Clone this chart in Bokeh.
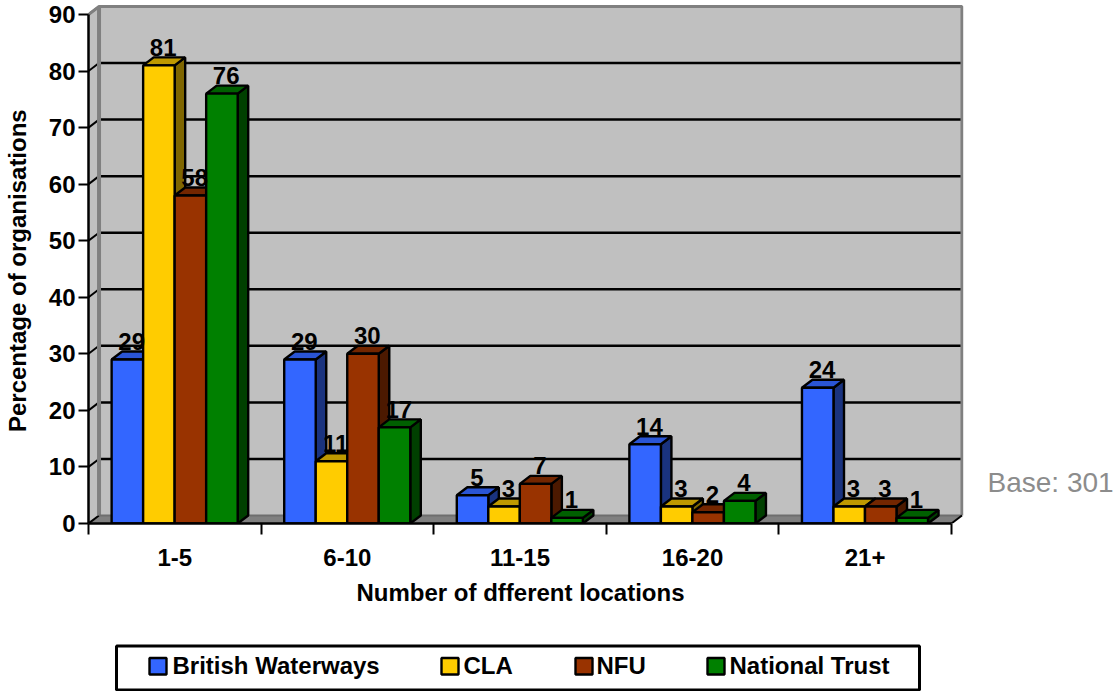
from bokeh.plotting import figure
from bokeh.layouts import column
from bokeh.models import (ColumnDataSource, FixedTicker, Range1d, LinearAxis, Title)
from bokeh.core.properties import value
from bokeh.embed import file_html
from bokeh.resources import INLINE

categories = ["1-5", "6-10", "11-15", "16-20", "21+"]
british_waterways = [29, 29, 5, 14, 24]
cla = [81, 11, 3, 3, 3]
nfu = [58, 30, 7, 2, 3]
national_trust = [76, 17, 1, 4, 1]
y_ticks = [0, 10, 20, 30, 40, 50, 60, 70, 80, 90]

series = [
    ("British Waterways", british_waterways, "#3366FF", "#2A55D5", "#1A337F"),
    ("CLA", cla, "#FFCC00", "#BF9900", "#7F6600"),
    ("NFU", nfu, "#993300", "#732600", "#4C1900"),
    ("National Trust", national_trust, "#008000", "#006000", "#004000"),
]

FONT = "Liberation Sans"
DX = 0.061     # depth of the 3-D box in x units
DY = 1.414     # depth of the 3-D box in y units
BAR_W = 0.1826
PAD = 0.134
YMAX = 90
N = len(categories)
EDGE = 2.4

p = figure(width=1118, height=643, output_backend="svg", toolbar_location=None,
           x_range=Range1d(0, 5.07), y_range=Range1d(0, 91.94),
           min_border_left=88, min_border_right=155, min_border_top=3, min_border_bottom=120,
           background_fill_color="white", border_fill_color="white", outline_line_color=None)
p.xgrid.visible = False
p.ygrid.visible = False

# walls and floor
p.patches(xs=[[DX, N + DX, N + DX, DX]], ys=[[DY, DY, YMAX + DY, YMAX + DY]],
          fill_color="#C0C0C0", line_color=None)
p.patches(xs=[[0, DX, DX, 0]], ys=[[0, DY, YMAX + DY, YMAX]], fill_color="#C0C0C0", line_color=None)
p.patches(xs=[[0, N, N + DX, DX]], ys=[[0, 0, DY, DY]], fill_color="#808080", line_color=None)
# grid on the back wall and its slant on the side wall
gy = [t for t in y_ticks if t > 0]
p.segment(x0=[DX] * len(gy), x1=[N + DX] * len(gy), y0=[t + DY for t in gy], y1=[t + DY for t in gy],
          line_color="black", line_width=2.5)
p.segment(x0=[0] * len(y_ticks), x1=[DX] * len(y_ticks), y0=y_ticks, y1=[t + DY for t in y_ticks],
          line_color="black", line_width=2)
p.line([0, DX, DX, N + DX, N + DX], [YMAX, YMAX + DY, YMAX + DY, YMAX + DY, DY],
       line_color="#808080", line_width=3)
p.line([DX, DX], [DY, YMAX + DY], line_color="#808080", line_width=4)
p.line([DX, N + DX], [DY, DY], line_color="#6E6E6E", line_width=2)
p.line([N, N + DX], [0, DY], line_color="black", line_width=2)

# bars
for s, (name, vals, front, top, side) in enumerate(series):
    left = [i + PAD + s * BAR_W for i in range(N)]
    right = [l + BAR_W for l in left]
    p.patches(xs=[[r, r + DX, r + DX, r] for r in right],
              ys=[[0, DY, v + DY, v] for v in vals],
              fill_color=side, line_color="black", line_width=EDGE)
    p.patches(xs=[[l, r, r + DX, l + DX] for l, r in zip(left, right)],
              ys=[[v, v, v + DY, v + DY] for v in vals],
              fill_color=top, line_color="black", line_width=EDGE)
    p.quad(left=left, right=right, bottom=[0] * N, top=vals,
           fill_color=front, line_color="black", line_width=EDGE)

# value labels, above all bars
for s, (name, vals, front, top, side) in enumerate(series):
    src = ColumnDataSource(dict(
        x=[i + PAD + s * BAR_W + BAR_W / 2 + DX / 2 for i in range(N)],
        y=[v + DY for v in vals],
        t=[str(v) for v in vals]))
    p.text(x="x", y="y", text="t", source=src, text_font=value(FONT), text_font_style="bold",
           text_font_size="24px", text_color="black", text_align="center",
           text_baseline="alphabetic", x_offset=-1, y_offset=-10)

# axes
xa = p.xaxis[0]
xa.ticker = FixedTicker(ticks=[i + 0.5 for i in range(N)], minor_ticks=list(range(N + 1)))
xa.major_label_overrides = {i + 0.5: c for i, c in enumerate(categories)}
xa.bounds = (0, N)
xa.major_tick_line_color = None
xa.minor_tick_out = 11
xa.minor_tick_in = 0
xa.minor_tick_line_color = "black"
xa.minor_tick_line_width = 2
xa.axis_line_color = "black"
xa.axis_line_width = 2.5
xa.major_label_text_font = FONT
xa.major_label_text_font_style = "bold"
xa.major_label_text_font_size = "24px"
xa.major_label_text_color = "black"
xa.major_label_standoff = 14

ya = p.yaxis[0]
ya.ticker = FixedTicker(ticks=y_ticks)
ya.bounds = (0, YMAX)
ya.minor_tick_line_color = None
ya.major_tick_out = 10
ya.major_tick_in = 0
ya.major_tick_line_color = "black"
ya.major_tick_line_width = 2
ya.axis_line_color = "black"
ya.axis_line_width = 2.5
ya.major_label_text_font = FONT
ya.major_label_text_font_style = "bold"
ya.major_label_text_font_size = "24px"
ya.major_label_text_color = "black"
ya.major_label_standoff = 3

# axis titles
x_title = Title(text="Number of dfferent locations", align="left", offset=268, standoff=16,
                text_font=FONT, text_font_style="bold", text_font_size="24px", text_color="black")
p.add_layout(x_title, "below")
title_axis = LinearAxis(ticker=FixedTicker(ticks=[44.7]),
                        major_label_overrides={44.7: "Percentage of organisations"},
                        major_label_orientation="vertical",
                        axis_line_color=None, major_tick_line_color=None, minor_tick_line_color=None,
                        major_tick_in=0, major_tick_out=0, major_label_standoff=14,
                        major_label_text_font=FONT, major_label_text_font_style="bold",
                        major_label_text_font_size="24px", major_label_text_color="black")
p.add_layout(title_axis, "left")

# base note
base_axis = LinearAxis(ticker=FixedTicker(ticks=[7.25]), major_label_overrides={7.25: "Base: 301"},
                       axis_line_color=None, major_tick_line_color=None, minor_tick_line_color=None,
                       major_tick_in=0, major_tick_out=0, major_label_standoff=24,
                       major_label_text_font=FONT, major_label_text_font_size="28px",
                       major_label_text_color="#8C8C8C")
p.add_layout(base_axis, "right")

# legend strip under the chart (x in page pixels, y downwards from the strip's top)
q = figure(width=1118, height=48, output_backend="svg", toolbar_location=None,
           x_axis_type=None, y_axis_type=None, x_range=Range1d(88, 963), y_range=Range1d(48, 0),
           min_border_left=88, min_border_right=155, min_border_top=0, min_border_bottom=0,
           outline_line_color=None, background_fill_color="white",
           border_fill_color="white")
q.xgrid.visible = False
q.ygrid.visible = False
q.quad(left=[116], right=[919], top=[2.5], bottom=[46.5], fill_color="white",
       line_color="black", line_width=3)
swatch_x = [149, 441, 575, 707]
label_x = [172, 463, 596, 729]
names = [s[0] for s in series]
fronts = [s[2] for s in series]
q.quad(left=swatch_x, right=[x + 17 for x in swatch_x], top=[14.5] * 4, bottom=[31] * 4,
       fill_color=fronts, line_color="black", line_width=2.4)
q.text(x=label_x, y=[21.5] * 4, text=names, text_font=value(FONT), text_font_style="bold",
       text_font_size="24px", text_color="black", text_baseline="middle")

open("out.html", "w").write(file_html(column(p, q, spacing=0), INLINE))
